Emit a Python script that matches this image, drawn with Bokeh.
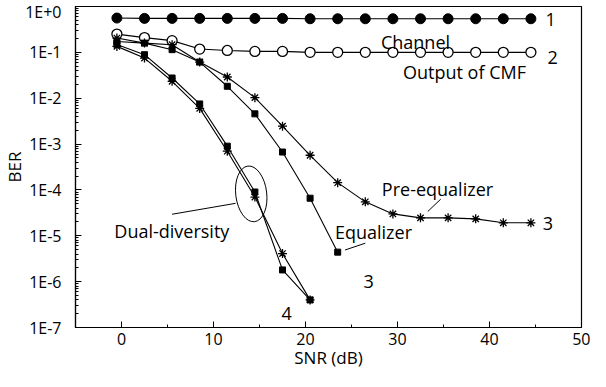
from bokeh.plotting import figure
from bokeh.embed import file_html
from bokeh.resources import INLINE
from bokeh.models import CustomJSTickFormatter, FixedTicker, Range1d
from bokeh.core.properties import value

# ---- data ----
snr = [-0.5, 2.5, 5.5, 8.5, 11.5, 14.5, 17.5, 20.5, 23.5, 26.5, 29.5, 32.5, 35.5, 38.5, 41.5, 44.5]
ber_channel = [0.56, 0.55, 0.55, 0.55, 0.55, 0.55, 0.55, 0.54, 0.54, 0.54, 0.54, 0.54, 0.54, 0.54, 0.54, 0.54]
ber_cmf = [0.25, 0.21, 0.18, 0.118, 0.11, 0.105, 0.105, 0.1, 0.1, 0.1, 0.1, 0.1, 0.1, 0.1, 0.1, 0.1]
ber_pre_eq = [0.205, 0.159, 0.147, 0.0615, 0.029, 0.0103, 0.00246, 5.7e-4, 1.44e-4, 5.5e-5,
              3.0e-5, 2.46e-5, 2.46e-5, 2.34e-5, 1.92e-5, 1.92e-5]
snr_eq = [-0.5, 2.5, 5.5, 8.5, 11.5, 14.5, 17.5, 20.5, 23.5]
ber_eq = [0.173, 0.159, 0.1145, 0.0615, 0.0182, 0.00456, 6.7e-4, 6.6e-5, 4.4e-6]
snr_dual = [-0.5, 2.5, 5.5, 8.5, 11.5, 14.5, 17.5, 20.5]
ber_dual_sq = [0.149, 0.089, 0.0276, 0.0075, 9.0e-4, 9.0e-5, 1.8e-6, 4.0e-7]
ber_dual_star = [0.135, 0.075, 0.0234, 0.006, 7.0e-4, 7.0e-5, 4.1e-6, 4.0e-7]
x_ticks = [0, 10, 20, 30, 40, 50]
x_minor_ticks = [-5, 5, 15, 25, 35, 45]

FONT = "Open Sans"

p = figure(width=590, height=371, output_backend="svg", toolbar_location=None,
           y_axis_type="log", x_range=Range1d(-5, 50), y_range=Range1d(1e-7, 1),
           min_border_left=73, min_border_right=9, min_border_top=6, min_border_bottom=42)
p.background_fill_color = "white"
p.border_fill_color = "white"
p.outline_line_color = "black"
p.outline_line_width = 1.2
p.xgrid.visible = False
p.ygrid.visible = False

# axes
p.xaxis.ticker = FixedTicker(ticks=x_ticks, minor_ticks=x_minor_ticks)
p.yaxis.formatter = CustomJSTickFormatter(code="""
const e = Math.round(Math.log10(tick));
return '1E' + (e >= 0 ? '+' : '') + e;
""")
for ax in (p.xaxis[0], p.yaxis[0]):
    ax.axis_line_color = "black"
    ax.axis_line_width = 1.2
    ax.major_tick_in = 6
    ax.major_tick_out = 0
    ax.minor_tick_in = 3
    ax.minor_tick_out = 0
    ax.major_tick_line_color = "black"
    ax.minor_tick_line_color = "black"
    ax.major_label_text_font = FONT
    ax.major_label_text_font_size = "16px"
    ax.major_label_text_color = "black"
    ax.axis_label_text_font = FONT
    ax.axis_label_text_font_size = "17px"
    ax.axis_label_text_font_style = "normal"
    ax.axis_label_text_color = "black"
p.xaxis.axis_label = "SNR (dB)"
p.yaxis.axis_label = "BER"
p.xaxis.major_label_standoff = 5
p.xaxis.axis_label_standoff = -2
p.yaxis.major_label_standoff = 14
p.yaxis.axis_label_standoff = -4

LW = 1.1
# curve 1: channel
p.line(snr, ber_channel, color="black", line_width=LW)
p.scatter(snr, ber_channel, marker="circle", size=10, color="black")
# curve 2: output of CMF
p.line(snr, ber_cmf, color="black", line_width=LW)
p.scatter(snr, ber_cmf, marker="circle", size=10, line_color="black", fill_color="white", line_width=1.3)
# pre-equalizer
p.line(snr, ber_pre_eq, color="black", line_width=LW)
p.scatter(snr, ber_pre_eq, marker="asterisk", size=9, line_color="black", line_width=1.3)
# equalizer
p.line(snr_eq, ber_eq, color="black", line_width=LW)
p.scatter(snr_eq, ber_eq, marker="square", size=6, color="black")
# dual diversity
p.line(snr_dual, ber_dual_sq, color="black", line_width=LW)
p.scatter(snr_dual, ber_dual_sq, marker="square", size=6, color="black")
p.line(snr_dual, ber_dual_star, color="black", line_width=LW)
p.scatter(snr_dual, ber_dual_star, marker="asterisk", size=9, line_color="black", line_width=1.3)

# annotations
def label(x, y, t, size="18px"):
    p.text(x=[x], y=[y], text=[t], text_font=value(FONT), text_font_size=size,
           text_align="left", text_baseline="middle", text_color="black")

label(46.1, 0.52, "1")
label(46.3, 0.0785, "2")
label(28.2, 0.166, "Channel")
label(30.6, 0.037, "Output of CMF")
label(28.3, 1.03e-4, "Pre-equalizer")
label(45.8, 1.9e-5, "3")
label(23.2, 1.2e-5, "Equalizer")
label(26.3, 1.0e-6, "3")
label(17.4, 2.0e-7, "4")
label(-0.78, 1.26e-5, "Dual-diversity")

p.line([34.7, 33.3], [6.3e-5, 3.4e-5], color="black", line_width=1)
p.line([24.3, 26.5], [4.9e-6, 6.9e-6], color="black", line_width=1)
p.line([5.5, 12.4], [2.95e-5, 5.1e-5], color="black", line_width=1)
p.ellipse(x=[14.1], y=[8.2e-5], width=31, height=56, width_units="screen", height_units="screen",
          angle=0.12, fill_color=None, line_color="black", line_width=1)

open("out.html", "w").write(file_html(p, INLINE))
